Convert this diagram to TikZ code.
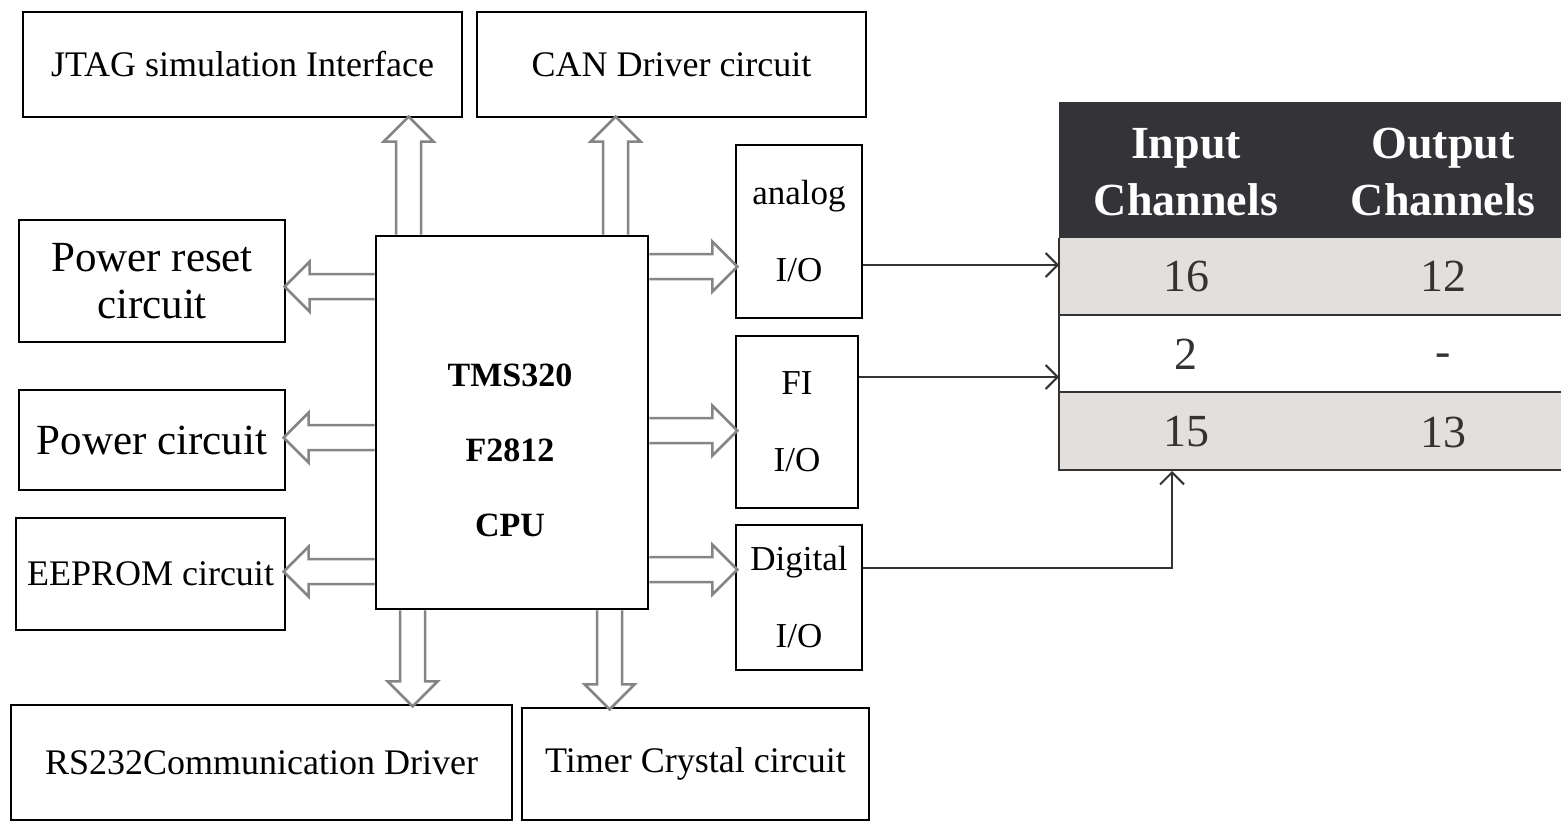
\documentclass[tikz,border=0pt]{standalone}
\usepackage{fontspec}
\setmainfont{Liberation Serif}
\usetikzlibrary{arrows.meta,calc}
\definecolor{hdr}{HTML}{343438}
\definecolor{rowg}{HTML}{E3DFDD}
\definecolor{ln}{HTML}{333333}
\definecolor{bar}{HTML}{858585}
\newcommand\blockarr[3]{%
  \draw[barr, shift={#1}, rotate=#2] (0,-12.5) -- ({#3-25},-12.5) -- ({#3-25},-25) -- (#3,0) -- ({#3-25},25) -- ({#3-25},12.5) -- (0,12.5);}
\begin{document}
\begin{tikzpicture}[x=1pt,y=-1pt,
  box/.style={draw, line width=2.8pt, inner sep=0pt, align=center},
  fA/.style={font=\fontsize{36}{42}\selectfont},
  fB/.style={font=\fontsize{43}{47}\selectfont},
  fC/.style={font=\fontsize{35}{77}\selectfont},
  barr/.style={draw=bar, line width=2.6pt, fill=white, line join=miter},
  conn/.style={draw=ln, line width=2pt, -{Straight Barb[length=12pt,width=24pt,line width=2pt]}},
  hdrtxt/.style={text=white, font=\fontsize{46}{57}\selectfont\bfseries, align=center},
  celltxt/.style={text=ln, font=\fontsize{46}{50}\selectfont},
  row/.style={inner sep=0pt, minimum width=502pt, minimum height=77pt}]
\useasboundingbox (0,0) rectangle (1561,822);
% boxes
\node[box, fA, minimum width=439pt, minimum height=105pt] (jtag) at (242.5,64.5) {JTAG simulation Interface};
\node[box, fA, minimum width=389pt, minimum height=105pt] (can) at (671.5,64.5) {CAN Driver circuit};
\node[box, fB, minimum width=266pt, minimum height=122pt] (preset) at (152,281) {Power reset\\circuit};
\node[box, fB, minimum width=266pt, minimum height=100pt] (pwr) at (152,440) {Power circuit};
\node[box, fA, minimum width=269pt, minimum height=112pt] (eeprom) at (150.5,574) {EEPROM circuit};
\node[box, minimum width=272pt, minimum height=373pt] (cpu) at (512,422.5) {};
\node[font=\fontsize{34}{75}\selectfont\bfseries, align=center] (cputxt) at (510,450) {TMS320\\F2812\\CPU};
\node[box, fC, minimum width=126pt, minimum height=173pt] (analog) at (799,231.5) {analog\\I/O};
\node[box, fC, minimum width=122pt, minimum height=172pt] (fi) at (797,422) {FI\\I/O};
\node[box, fC, minimum width=126pt, minimum height=145pt] (digital) at (799,597.5) {Digital\\I/O};
\node[box, fA, minimum width=501pt, minimum height=115pt] (rs232) at (261.5,762.5) {RS232Communication Driver};
\node[box, fA, minimum width=347pt, minimum height=112pt] (timer) at (695.5,764) {Timer Crystal circuit};
% block arrows
\blockarr{($(cpu.north west)+(34,0)$)}{90}{118}
\blockarr{($(cpu.north west)+(241,0)$)}{90}{118}
\blockarr{($(cpu.north west)+(0,52)$)}{180}{90}
\blockarr{($(cpu.north west)+(0,203)$)}{180}{91}
\blockarr{($(cpu.north west)+(0,337)$)}{180}{91}
\blockarr{($(cpu.north east)+(0,32)$)}{0}{88}
\blockarr{($(cpu.north east)+(0,196)$)}{0}{88}
\blockarr{($(cpu.north east)+(0,335)$)}{0}{88}
\blockarr{($(cpu.south west)+(38,0)$)}{270}{96}
\blockarr{($(cpu.south west)+(235,0)$)}{270}{99}
% table
\node[inner sep=0pt, minimum width=502pt, minimum height=136pt, fill=hdr] (hdr) at (1310,170) {};
\node[row, fill=rowg] (r1) at (1310,276.5) {};
\node[row, fill=white] (r2) at (1310,353.5) {};
\node[row, fill=rowg] (r3) at (1310,431.5) {};
\node[hdrtxt] (hin) at (1186,172) {Input\\Channels};
\node[hdrtxt] (hout) at (1443,172) {Output\\Channels};
\node[celltxt] (c11) at (1186,276) {16};
\node[celltxt] (c12) at (1443,276) {12};
\node[celltxt] (c21) at (1186,354) {2};
\node[celltxt] (c22) at (1443,360) {-};
\node[celltxt] (c31) at (1186,432) {15};
\node[celltxt] (c32) at (1443,432) {13};
\draw[ln, line width=2.5pt] (r1.north west) -- (r3.south west) -- (r3.south east);
\draw[ln, line width=2.5pt] (r1.south west) -- (r1.south east);
\draw[ln, line width=2.5pt] (r2.south west) -- (r2.south east);
% connectors
\coordinate (in1) at (1059,265);
\coordinate (in2) at (1059,377);
\coordinate (in3) at (1172,471);
\draw[conn] (analog.east |- in1) -- (in1);
\draw[conn] (fi.east |- in2) -- (in2);
\draw[conn] (digital.east |- 0,568) -| (in3);
\end{tikzpicture}
\end{document}
